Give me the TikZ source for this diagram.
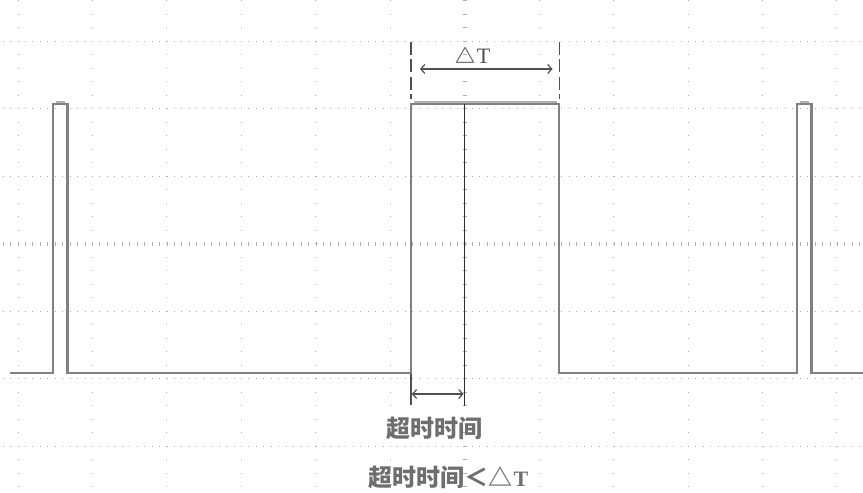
\documentclass[tikz,border=0pt]{standalone}
\usepackage{fontspec}
\setmainfont{Liberation Serif}
\newfontfamily\cjk{Noto Sans CJK SC}
\usetikzlibrary{arrows.meta}
\definecolor{dotc}{RGB}{175,175,175}
\definecolor{wavec}{RGB}{128,128,128}
\definecolor{fuzzc}{RGB}{175,175,175}
\definecolor{annc}{RGB}{80,80,80}
\definecolor{markc}{RGB}{45,45,45}
\definecolor{txtc}{RGB}{110,110,110}
\begin{document}
\begin{tikzpicture}[x=1pt,y=-1pt,
  griddot/.style={dotc,line width=1pt,dash pattern=on 1pt off 6.45pt},
  griddotv/.style={dotc,line width=1pt,dash pattern=on 1pt off 12.5pt},
  gridtick/.style={dotc,line width=1pt},
  wave/.style={wavec,line width=2.5pt,line join=miter},
  fuzz/.style={fuzzc,line width=2pt},
  dashmark/.style={annc,line width=1.3pt,dash pattern=on 13pt off 4.5pt},
  dimarrow/.style={annc,line width=1.2pt,{Straight Barb[length=4pt,width=9pt]}-{Straight Barb[length=4pt,width=9pt]}},
  markline/.style={markc,line width=1.4pt},
  ext/.style={annc,line width=1.4pt},
  lbl/.style={inner sep=0pt,text=txtc,font=\cjk\bfseries\fontsize{24}{24}\selectfont},
  dlbl/.style={inner sep=0pt,text=annc,font=\fontsize{22}{22}\selectfont}]
\fill[white] (0,0) rectangle (863,493);
\useasboundingbox (0,0) rectangle (863,493);
% grid rows
\foreach \k in {0,1,2,4,5,6}
  \draw[griddot] (2.6,{41+67.5*\k}) -- (863,{41+67.5*\k});
\foreach \i in {0,...,115}
  \draw[gridtick] ({3.1+7.45*\i},241.5) -- ++(0,4);
% grid columns
\foreach \k in {0,1,2,3,4,5,7,8,9,10,11}
  \draw[griddotv] ({18+74.45*\k},0) -- ({18+74.45*\k},493);
\foreach \i in {0,...,36}
  \draw[gridtick] (462.7,{0.5+13.5*\i}) -- ++(4,0);
% waveform
\coordinate (w0) at (10,373);
\coordinate (a1) at (53,373);  \coordinate (a2) at (53,104);
\coordinate (a3) at (67.5,104); \coordinate (a4) at (67.5,373);
\coordinate (b1) at (411,373); \coordinate (b2) at (411,104);
\coordinate (b3) at (559,104); \coordinate (b4) at (559,373);
\coordinate (c1) at (797,373); \coordinate (c2) at (797,104);
\coordinate (c3) at (811.5,104); \coordinate (c4) at (811.5,373);
\coordinate (w9) at (863,373);
\draw[fuzz] (56,101.8) -- (65,101.8);
\draw[fuzz] (414,101.6) -- (557,101.6);
\draw[fuzz] (800,101.8) -- (809,101.8);
\draw[wave] (w0) -- (a1) -- (a2) -- (a3) -- (a4) -- (b1) -- (b2) -- (b3) -- (b4) -- (c1) -- (c2) -- (c3) -- (c4) -- (w9);
% delta T marking
\coordinate (dl0) at (411,41.5); \coordinate (dl1) at (411,99);
\coordinate (dr0) at (559.5,41.5); \coordinate (dr1) at (559.5,99);
\draw[dashmark] (dl0) -- (dl1);
\draw[dashmark] (dr0) -- (dr1);
\coordinate (da) at (420,69); \coordinate (db) at (552.5,69);
\draw[dimarrow] (da) -- (db);
\node[dlbl] (dT) at (473,55) {{\cjk\bfseries\fontsize{20}{20}\selectfont △}\kern1pt T};
% timeout marking
\coordinate (m0) at (464.3,104); \coordinate (m1) at (464.3,405.5);
\draw[markline] (m0) -- (m1);
\coordinate (e0) at (411,374); \coordinate (e1) at (411,405);
\draw[ext] (e0) -- (e1);
\coordinate (ta) at (411.8,394); \coordinate (tb) at (463.5,394);
\draw[dimarrow] (ta) -- (tb);
\node[lbl] (to) at (434,428) {超时时间};
\node[lbl] (cmp) at (448.5,477) {超时时间＜△\kern1pt{\rmfamily\bfseries\fontsize{22}{22}\selectfont T}};
\end{tikzpicture}
\end{document}
